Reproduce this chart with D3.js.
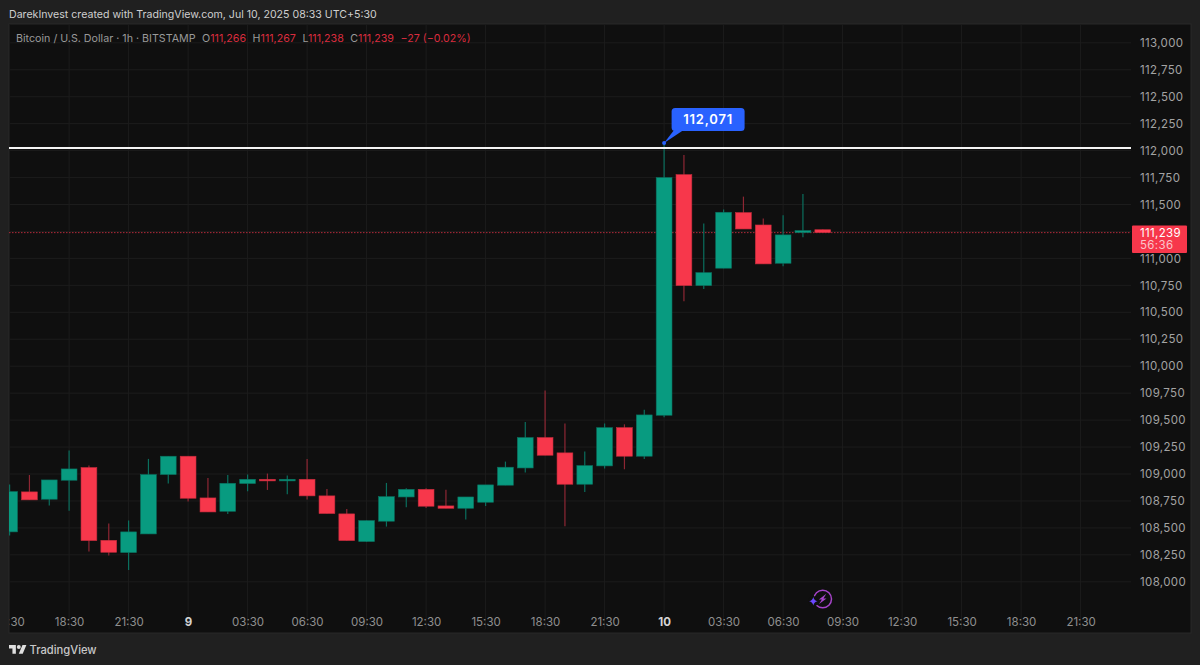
<!DOCTYPE html>
<html><head><meta charset="utf-8">
<script src="https://cdn.jsdelivr.net/npm/d3@7"></script>
<style>
html,body{margin:0;padding:0;background:#202020;overflow:hidden}
svg{display:block}
text{font-family:Inter,"Noto Sans",sans-serif}
</style></head><body>
<svg id="c" width="1200" height="665"></svg>
<script>
const opens  = [108463,108834,108766,108942,109060,108385,108271,108444,108995,109165,108778,108654,108911,108951,108936,108951,108797,108630,108373,108562,108787,108858,108704,108682,108738,108896,109056,109338,109196,108905,109075,109430,109165,109545,111777,110748,110909,111425,111310,110955,111239,111266];
const highs  = [108902,108991,108945,109217,109078,108540,108568,109140,109165,109165,108964,108991,108995,109004,108985,109140,108862,108676,108568,108917,108868,108868,108855,108787,108899,109115,109483,109774,109468,109208,109468,109461,109597,112071,111960,111323,111453,111573,111369,111400,111598,111267];
const lows   = [108429,108760,108707,108658,108280,108243,108110,108444,108911,108744,108648,108630,108840,108852,108812,108763,108633,108380,108370,108512,108692,108685,108682,108577,108704,108896,109013,109174,108515,108834,109050,109044,109140,109526,110602,110717,110909,111273,110949,110927,111196,111238];
const closes = [108837,108760,108945,109047,108382,108274,108463,108995,109165,108775,108648,108914,108951,108936,108951,108797,108633,108382,108568,108790,108858,108701,108682,108787,108899,109063,109338,109174,108905,109078,109430,109165,109548,111750,110748,110868,111428,111273,110949,111218,111258,111239];
const priceTicks = d3.range(108000, 113001, 250);
const timeTickIndex = [0,3,6,9,12,15,18,21,24,27,30,33,36,39,42,45,48,51,54];
const timeTickLabels = ["15:30","18:30","21:30","9","03:30","06:30","09:30","12:30","15:30","18:30","21:30","10","03:30","06:30","09:30","12:30","15:30","18:30","21:30"];
const boldLabels = ["9","10"];
const levelLine = 112025;
const lastPrice = 111239;
const athPrice = 112071;
const athIndex = 33;

const L=9,T=24,R=1131,B=633,PR=1191;
const x=d3.scaleLinear().domain([0,33]).range([9.6,664.1]);
const y=d3.scaleLinear().domain([108000,113000]).range([581.8,42.8]);
const svg=d3.select("#c");
svg.append("rect").attr("width",1200).attr("height",665).attr("fill","#202020");
svg.append("rect").attr("x",L).attr("y",T).attr("width",PR-L).attr("height",B-T).attr("fill","#0f0f0f").attr("stroke","#282828").attr("stroke-width",1);
svg.append("defs").append("clipPath").attr("id","pane").append("rect").attr("x",L).attr("y",T).attr("width",R-L).attr("height",B-T);
svg.append("defs").append("clipPath").attr("id","lab").append("rect").attr("x",L+.5).attr("y",B-30).attr("width",PR-L).attr("height",29);

const pane=svg.append("g").attr("clip-path","url(#pane)");
pane.append("g").selectAll("line").data(priceTicks).join("line")
 .attr("x1",L).attr("x2",R).attr("y1",d=>y(d)).attr("y2",d=>y(d)).attr("stroke","#1c1c1c").attr("stroke-width",1);
pane.append("g").selectAll("line").data(timeTickIndex).join("line")
 .attr("x1",d=>x(d)).attr("x2",d=>x(d)).attr("y1",T).attr("y2",B-4).attr("stroke","#1c1c1c").attr("stroke-width",1);

pane.append("line").attr("x1",L).attr("x2",R).attr("y1",y(lastPrice)).attr("y2",y(lastPrice))
 .attr("stroke","#b02a3a").attr("stroke-width",1).attr("stroke-dasharray","1.5 1.5");

const idx=d3.range(opens.length);
const up=i=>closes[i]>=opens[i];
pane.append("g").selectAll("line").data(idx).join("line")
 .attr("x1",i=>x(i)).attr("x2",i=>x(i)).attr("y1",i=>y(highs[i])).attr("y2",i=>y(lows[i]))
 .attr("stroke",i=>up(i)?"#0a6f5e":"#8e2633").attr("stroke-width",1.2);
pane.append("g").selectAll("rect").data(idx).join("rect")
 .attr("x",i=>x(i)-7.9).attr("width",15.8)
 .attr("y",i=>y(Math.max(opens[i],closes[i])))
 .attr("height",i=>Math.max(1.5,Math.abs(y(opens[i])-y(closes[i]))))
 .attr("fill",i=>up(i)?"#089b80":"#f7374b")
 .attr("stroke",i=>up(i)?"#0a6f5e":"#c42c3c").attr("stroke-width",0.6);

pane.append("line").attr("x1",L).attr("x2",R).attr("y1",y(levelLine)).attr("y2",y(levelLine))
 .attr("stroke","#f4f4f4").attr("stroke-width",2);

// price axis
const yAxis=d3.axisRight(y).tickValues(priceTicks).tickSize(0).tickPadding(0).tickFormat(d3.format(","));
const yg=svg.append("g").attr("transform","translate(1140,0)").call(yAxis);
yg.select(".domain").remove();
yg.selectAll("text").attr("fill","#a3a3a3").attr("font-size",11.5).attr("letter-spacing",0.35).attr("font-family","Inter,sans-serif");

// last price tag
svg.append("rect").attr("x",1132).attr("y",225.5).attr("width",55).attr("height",27.5).attr("rx",1).attr("fill","#f7374b");
svg.append("text").attr("x",1140).attr("y",236.6).attr("fill","#fff").attr("font-size",11.5).attr("letter-spacing",0.35).text(d3.format(",")(lastPrice));
svg.append("text").attr("x",1140).attr("y",249.3).attr("fill","#fbc4ca").attr("font-size",11.5).attr("letter-spacing",0.35).text("56:36");

// time axis
const xAxis=d3.axisBottom(x).tickValues(timeTickIndex).tickSize(0).tickPadding(0).tickFormat((d,i)=>timeTickLabels[i]);
const xg=svg.append("g").attr("clip-path","url(#lab)").append("g").attr("transform","translate(0,617.5)").call(xAxis);
xg.select(".domain").remove();
xg.selectAll("text").attr("font-family","Inter,sans-serif").attr("font-size",11.5)
 .attr("fill",(d,i)=>boldLabels.includes(timeTickLabels[i])?"#d4d4d4":"#8f8f8f")
 .attr("font-weight",(d,i)=>boldLabels.includes(timeTickLabels[i])?700:400);

// callout
const blue="#2962ff",ax=x(athIndex),ay=y(athPrice);
svg.append("path").attr("fill",blue).attr("d",`M${ax} ${ay} L${ax+10} ${ay-13} L${ax+18} ${ay-12} Z`);
svg.append("rect").attr("x",ax+7.5).attr("y",108).attr("width",73).attr("height",23).attr("rx",3.5).attr("fill",blue);
svg.append("circle").attr("cx",ax).attr("cy",ay).attr("r",2).attr("fill",blue);
svg.append("text").attr("x",ax+44).attr("y",123.5).attr("text-anchor","middle").attr("fill","#fff")
 .attr("font-size",13).attr("font-weight",600).attr("letter-spacing",0.8).text(d3.format(",")(athPrice));

// header
svg.append("text").attr("x",9).attr("y",18).attr("fill","#cfcfcf").attr("font-size",10.6).text("DarekInvest created with TradingView.com, Jul 10, 2025 08:33 UTC+5:30");
const leg=svg.append("text").attr("x",16).attr("y",42).attr("font-size",10.7);
const gray="#9a9a9a",red="#d92c3e";
[["Bitcoin / U.S. Dollar · 1h · BITSTAMP",gray,0],["O",gray,6.5],["111,266",red,0],["H",gray,6.5],["111,267",red,0],["L",gray,6.5],["111,238",red,0],["C",gray,6.5],["111,239",red,0],["−27 (−0.02%)",red,6.5]]
 .forEach(([t,c,dx])=>leg.append("tspan").attr("dx",dx).attr("fill",c).text(t));

// logo
const logo=svg.append("g").attr("transform","translate(9,643) scale(0.49)").attr("fill","#e0e0e0");
logo.append("path").attr("d","M14 22H7V11H0V4h14v18zM28 22h-8l7.5-18h8L28 22z");
logo.append("circle").attr("cx",20).attr("cy",8).attr("r",4);
svg.append("text").attr("x",29.5).attr("y",653.5).attr("fill","#c8c8c8").attr("font-size",11.2).attr("font-weight",500).text("TradingView");

// bolt icon
const ic=svg.append("g").attr("transform","translate(822.7,599)");
ic.append("circle").attr("r",8.8).attr("fill","none").attr("stroke","#a644c9").attr("stroke-width",1.5);
ic.append("path").attr("d","M3.6 -5.2 L-3.8 0.4 L-0.8 0.4 L-3.6 5 L3.8 -0.6 L0.8 -0.6 Z").attr("fill","#a644c9");
ic.append("circle").attr("cx",-9.4).attr("cy",2.3).attr("r",5.2).attr("fill","#0f0f0f");
ic.append("path").attr("d","M-9.4 -2 Q-8.8 1.4 -5.2 2.3 Q-8.8 3.2 -9.4 6.6 Q-10 3.2 -13.6 2.3 Q-10 1.4 -9.4 -2 Z").attr("fill","#6c47ff");
</script>
</body></html>
